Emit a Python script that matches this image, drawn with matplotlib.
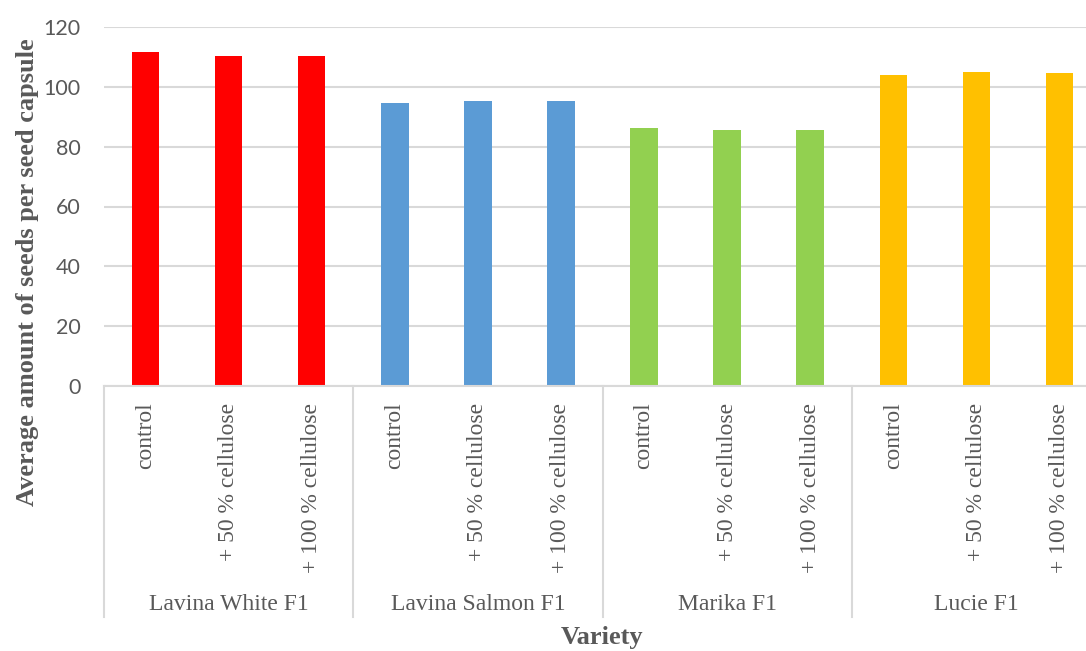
import matplotlib.pyplot as plt
import numpy as np

# data
varieties = ['Lavina White F1', 'Lavina Salmon F1', 'Marika F1', 'Lucie F1']
treatments = ['control', '+ 50 % cellulose', '+ 100 % cellulose']
seeds = [
    [111.7, 110.3, 110.3],   # Lavina White F1
    [94.5, 95.2, 95.1],      # Lavina Salmon F1
    [86.1, 85.7, 85.7],      # Marika F1
    [103.9, 105.0, 104.6],   # Lucie F1
]
colors = ['#FF0000', '#5B9BD5', '#92D050', '#FFC000']
yticks = [0, 20, 40, 60, 80, 100, 120]

text_grey = '#595959'
line_grey = '#D9D9D9'
serif = ['Liberation Serif', 'DejaVu Serif']

fig = plt.figure(figsize=(10.86, 6.51), dpi=100)
ax = fig.add_axes([104 / 1086, 265 / 651, 997 / 1086, 359 / 651])

n_t = len(treatments)
x = np.arange(len(varieties) * n_t)
for g, vals in enumerate(seeds):
    ax.bar(x[g * n_t:(g + 1) * n_t], vals, width=0.33, color=colors[g], zorder=3)

ax.set_xlim(-0.5, len(x) - 0.5)
ax.set_ylim(0, 120)
ax.set_yticks(yticks)
ax.set_yticklabels([str(t) for t in yticks], family=['Lato', 'DejaVu Sans'],
                   size=15.5, color=text_grey)
ax.tick_params(axis='y', length=0, pad=17)
ax.grid(axis='y', color=line_grey, linewidth=1.5, zorder=0)

ax.set_xticks(x)
ax.set_xticklabels(treatments * len(varieties), rotation=90, va='top',
                   family=serif, size=17, color=text_grey)
ax.tick_params(axis='x', length=0, pad=12)

for s in ['top', 'right', 'left']:
    ax.spines[s].set_visible(False)
ax.spines['bottom'].set_color(line_grey)
ax.spines['bottom'].set_linewidth(1.5)
ax.spines['bottom'].set_zorder(4)

# multi-level category axis: separators and group names
trans = ax.get_xaxis_transform()
for b in np.arange(len(varieties) + 1) * n_t - 0.5:
    ax.plot([b, b], [0, -0.643], transform=trans, color=line_grey,
            linewidth=1.5, clip_on=False)
for g, name in enumerate(varieties):
    ax.text(g * n_t + (n_t - 1) / 2, -0.61, name, transform=trans,
            ha='center', va='center', family=serif, size=17, color=text_grey)

ax.text(0.5 * (len(x) - 1), -0.70, 'Variety', transform=trans, ha='center',
        va='center', family=serif, size=19, weight='bold', color=text_grey)
fig.text(28 / 1086, 1 - 272 / 651, 'Average amount of seeds per seed capsule',
         rotation=90, ha='center', va='center', family=serif, size=19,
         weight='bold', color=text_grey)

fig.savefig('out.png', dpi=100)
